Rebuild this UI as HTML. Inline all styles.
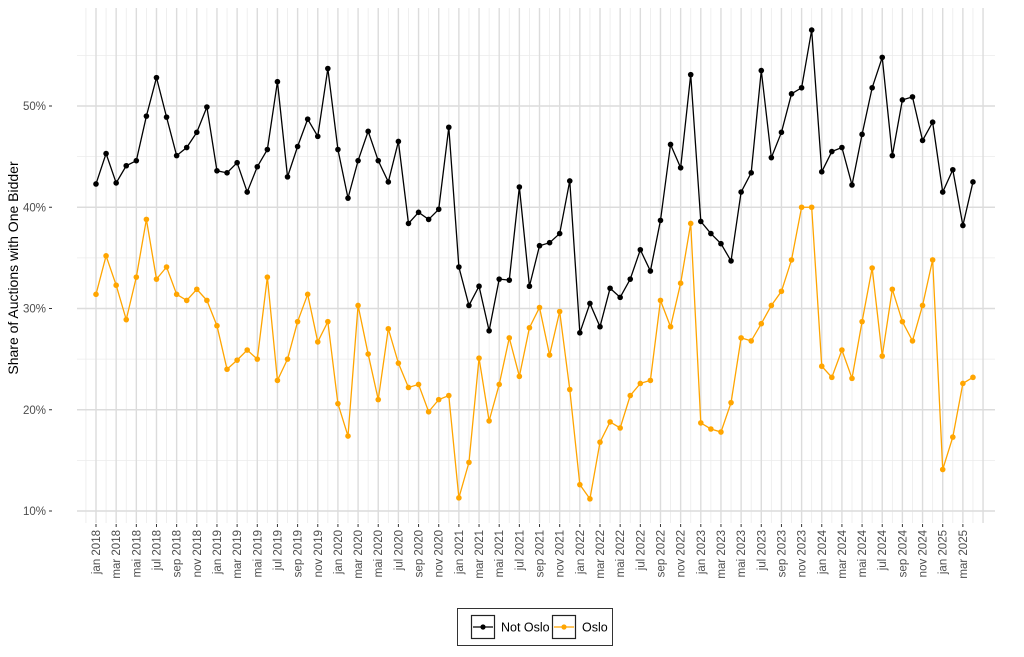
<!DOCTYPE html>
<html><head><meta charset="utf-8"><style>
body{margin:0;background:#fff;}
svg{font-family:"Liberation Sans",Arial,sans-serif;}
</style></head><body>
<svg id="chart" width="1024" height="652" viewBox="0 0 1024 652" xmlns="http://www.w3.org/2000/svg">
<g id="grid"></g>
<g id="yaxis"></g>
<g id="xaxis"></g>
<g id="series"></g>
<text transform="translate(18,268) rotate(-90)" text-anchor="middle" font-size="14" fill="#000">Share of Auctions with One Bidder</text>
<g>
<rect x="457.5" y="608.5" width="155" height="37" fill="#fff" stroke="#333" stroke-width="1"/>
<g>
<rect x="471.5" y="615.5" width="23" height="23" fill="#fff" stroke="#222" stroke-width="1.2"/>
<line x1="473" y1="627" x2="493" y2="627" stroke="#000" stroke-width="1.2"/>
<circle cx="483" cy="627" r="2.6" fill="#000"/>
<text x="501" y="631.5" font-size="12.5" fill="#000">Not Oslo</text>
</g>
<g>
<rect x="552.5" y="615.5" width="23" height="23" fill="#fff" stroke="#222" stroke-width="1.2"/>
<line x1="554" y1="627" x2="574" y2="627" stroke="#FFA500" stroke-width="1.2"/>
<circle cx="564" cy="627" r="2.6" fill="#FFA500"/>
<text x="582" y="631.5" font-size="12.5" fill="#000">Oslo</text>
</g>
</g>
</svg>
<script>
const months = ["jan","feb","mar","apr","mai","jun","jul","aug","sep","okt","nov","des"];
const startYear = 2018;
const nPoints = 88;
const notOslo = [42.3,45.3,42.4,44.1,44.6,49.0,52.8,48.9,45.1,45.9,47.4,49.9,
43.6,43.4,44.4,41.5,44.0,45.7,52.4,43.0,46.0,48.7,47.0,53.7,
45.7,40.9,44.6,47.5,44.6,42.5,46.5,38.4,39.5,38.8,39.8,47.9,
34.1,30.3,32.2,27.8,32.9,32.8,42.0,32.2,36.2,36.5,37.4,42.6,
27.6,30.5,28.2,32.0,31.1,32.9,35.8,33.7,38.7,46.2,43.9,53.1,
38.6,37.4,36.4,34.7,41.5,43.4,53.5,44.9,47.4,51.2,51.8,57.5,
43.5,45.5,45.9,42.2,47.2,51.8,54.8,45.1,50.6,50.9,46.6,48.4,
41.5,43.7,38.2,42.5];
const oslo = [31.4,35.2,32.3,28.9,33.1,38.8,32.9,34.1,31.4,30.8,31.9,30.8,
28.3,24.0,24.9,25.9,25.0,33.1,22.9,25.0,28.7,31.4,26.7,28.7,
20.6,17.4,30.3,25.5,21.0,28.0,24.6,22.2,22.5,19.8,21.0,21.4,
11.3,14.8,25.1,18.9,22.5,27.1,23.3,28.1,30.1,25.4,29.7,22.0,
12.6,11.2,16.8,18.8,18.2,21.4,22.6,22.9,30.8,28.2,32.5,38.4,
18.7,18.1,17.8,20.7,27.1,26.8,28.5,30.3,31.7,34.8,40.0,40.0,
24.3,23.2,25.9,23.1,28.7,34.0,25.3,31.9,28.7,26.8,30.3,34.8,
14.1,17.3,22.6,23.2];
const yTicks = [10,20,30,40,50];
const yMinor = [15,25,35,45,55];

const NS="http://www.w3.org/2000/svg";
const X0=96, DX=10.08, L=77, R=995, T=8, B=523;
const x = i => X0 + i*DX;
const y = v => 511 - (v-10)*10.125;
function mk(tag, parent, attrs){const e=document.createElementNS(NS,tag);for(const k in attrs)e.setAttribute(k,attrs[k]);parent.appendChild(e);return e;}
const grid=document.getElementById('grid'), ya=document.getElementById('yaxis'), xa=document.getElementById('xaxis'), ser=document.getElementById('series');

yMinor.forEach(v=>{const l=mk('line',grid,{x1:L,x2:R,y1:y(v),y2:y(v),stroke:'#ebebeb','stroke-width':0.8});

});
for(let i=-1;i<=nPoints;i++){const xi=x(i);if(xi<L||xi>R)continue;const major=(i%2===0);
const l=mk('line',grid,{x1:xi,x2:xi,y1:T,y2:B,stroke:major?'#dcdcdc':'#ebebeb','stroke-width':major?1.4:0.8});

}
yTicks.forEach(v=>{const l=mk('line',grid,{x1:L,x2:R,y1:y(v),y2:y(v),stroke:'#dcdcdc','stroke-width':1.4});


const tk=mk('line',ya,{x1:49,x2:52,y1:y(v),y2:y(v),stroke:'#333','stroke-width':1});


const t=mk('text',ya,{x:46,y:y(v)+4,'text-anchor':'end','font-size':11.5,fill:'#4d4d4d'});
t.textContent=v+'%';

});
for(let i=0;i<nPoints;i+=2){const xi=x(i);
const tk=mk('line',xa,{x1:xi,x2:xi,y1:524,y2:527,stroke:'#333','stroke-width':1});


const t=mk('text',xa,{transform:`translate(${xi+4},530) rotate(-90)`,'text-anchor':'end','font-size':11.5,fill:'#4d4d4d'});
t.textContent=months[i%12]+' '+(startYear+Math.floor(i/12));

}

function drawSeries(vals,color,name){
const g=mk('g',ser,{});


const p=mk('polyline',g,{points:vals.map((v,i)=>x(i)+','+y(v)).join(' '),fill:'none',stroke:color,'stroke-width':1.3});


vals.forEach((v,i)=>{const c=mk('circle',g,{cx:x(i),cy:y(v),r:2.8,fill:color});

});}
drawSeries(oslo,'#FFA500','oslo');
drawSeries(notOslo,'#000000','not-oslo');
</script>
</body></html>
